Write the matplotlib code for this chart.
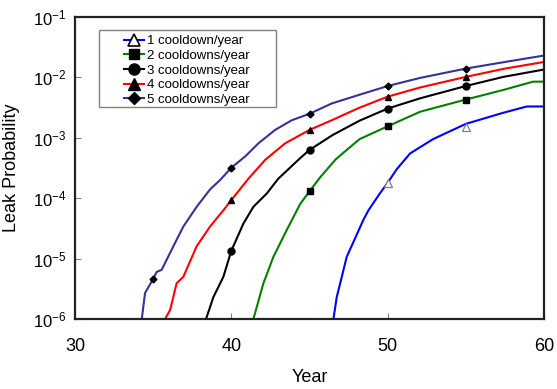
import numpy as np
import matplotlib
matplotlib.use("Agg")
import matplotlib.pyplot as plt
from matplotlib.patches import Rectangle

plt.rcParams['font.family'] = ['Liberation Sans', 'DejaVu Sans']
plt.rcParams['mathtext.fontset'] = 'custom'
plt.rcParams['mathtext.rm'] = 'Liberation Sans'
plt.rcParams['mathtext.it'] = 'Liberation Sans'

# Leak probability curves (year, probability)
year_1 = [46.53, 46.74, 47.38, 48.45, 48.77, 49.5, 50.0, 50.57, 51.43, 52.9, 55.0, 57.4, 58.9, 60.0]
prob_1 = [1.0e-6, 2.3e-6, 1.07e-5, 4.4e-5, 6.3e-5, 1.2e-4, 1.8e-4, 3.0e-4, 5.5e-4, 9.5e-4, 1.7e-3, 2.6e-3, 3.3e-3, 3.3e-3]
# open triangles of series 1 sit slightly off the line
mark_year_1 = [50, 55]
mark_prob_1 = [1.8e-4, 1.5e-3]

year_2 = [41.41, 42.05, 42.69, 43.55, 44.4, 45.0, 45.67, 46.64, 47.0, 48.2, 50.0, 52.07, 55.0, 57.4, 59.3, 60.0]
prob_2 = [1.0e-6, 3.9e-6, 1.07e-5, 3.0e-5, 8.0e-5, 1.3e-4, 2.2e-4, 4.3e-4, 5.2e-4, 9.5e-4, 1.55e-3, 2.7e-3, 4.3e-3, 6.2e-3, 8.5e-3, 8.5e-3]

year_3 = [38.38, 38.85, 39.49, 40.0, 40.77, 41.41, 42.27, 43.0, 44.4, 45.0, 46.5, 48.2, 50.0, 52.07, 55.0, 57.4, 60.0]
prob_3 = [1.0e-6, 2.3e-6, 5.0e-6, 1.35e-5, 3.8e-5, 7.2e-5, 1.2e-4, 2.1e-4, 4.6e-4, 6.3e-4, 1.12e-3, 1.92e-3, 3.05e-3, 4.5e-3, 7.2e-3, 1.02e-2, 1.35e-2]

year_4 = [35.76, 36.08, 36.5, 36.93, 37.78, 38.64, 39.49, 40.0, 41.09, 42.16, 43.44, 45.0, 46.42, 48.13, 50.0, 52.07, 55.0, 57.5, 60.0]
prob_4 = [1.0e-6, 1.4e-6, 3.9e-6, 5.0e-6, 1.6e-5, 3.4e-5, 6.3e-5, 9.3e-5, 2.1e-4, 4.3e-4, 8.1e-4, 1.35e-3, 1.95e-3, 3.1e-3, 4.8e-3, 6.8e-3, 1.02e-2, 1.4e-2, 1.8e-2]

year_5 = [34.27, 34.48, 35.0, 35.22, 35.54, 36.29, 36.93, 37.78, 38.64, 39.28, 40.0, 40.88, 41.73, 42.8, 43.86, 45.0, 46.42, 48.13, 50.0, 52.07, 55.0, 57.5, 60.0]
prob_5 = [1.0e-6, 2.7e-6, 4.6e-6, 6.0e-6, 6.5e-6, 1.6e-5, 3.4e-5, 7.2e-5, 1.4e-4, 2.0e-4, 3.2e-4, 4.9e-4, 8.1e-4, 1.35e-3, 1.95e-3, 2.5e-3, 3.7e-3, 5.1e-3, 7.2e-3, 9.8e-3, 1.4e-2, 1.8e-2, 2.3e-2]

mark_years = [35, 40, 45, 50, 55]

labels = ['1 cooldown/year', '2 cooldowns/year', '3 cooldowns/year',
          '4 cooldowns/year', '5 cooldowns/year']


def marks(years):
    return [years.index(y) for y in mark_years if y in years]


fig = plt.figure(figsize=(5.57, 3.89), dpi=100)
ax = fig.add_axes([0.1347, 0.18, 0.842, 0.7763])

ax.plot(year_1, prob_1, color='#0000ff', lw=1.5)
ax.plot(mark_year_1, mark_prob_1, ls='none', marker='^', ms=6,
        mfc='white', mec='#808080', mew=0.9)
ax.plot(year_2, prob_2, color='#008000', lw=1.5, marker='s', ms=4.5,
        mfc='black', mec='black', markevery=marks(year_2))
ax.plot(year_3, prob_3, color='black', lw=1.5, marker='o', ms=5,
        mfc='black', mec='black', markevery=marks(year_3))
ax.plot(year_4, prob_4, color='#ff0000', lw=1.5, marker='^', ms=5,
        mfc='black', mec='black', markevery=marks(year_4))
ax.plot(year_5, prob_5, color='#333399', lw=1.5, marker='D', ms=3.5,
        mfc='black', mec='black', markevery=marks(year_5))

# legend proxies (bigger markers, as in the original)
proxies = [
    ax.plot([], [], color='#0000ff', lw=1.5, marker='^', ms=9, mfc='white', mec='black', mew=1.2)[0],
    ax.plot([], [], color='#008000', lw=1.5, marker='s', ms=7, mfc='black', mec='black')[0],
    ax.plot([], [], color='black', lw=1.5, marker='o', ms=8, mfc='black', mec='black')[0],
    ax.plot([], [], color='#ff0000', lw=1.5, marker='^', ms=8, mfc='black', mec='black')[0],
    ax.plot([], [], color='#333399', lw=1.5, marker='D', ms=6, mfc='black', mec='black')[0],
]
ax.legend(proxies, labels, loc='upper left', bbox_to_anchor=(0.105, 0.94),
          frameon=False, fontsize=9.5, borderpad=0, borderaxespad=0,
          handlelength=1.5, handletextpad=0.25, labelspacing=0.18)
ax.add_patch(Rectangle((0.0512, 0.702), 0.3774, 0.255, transform=ax.transAxes,
                       fill=False, edgecolor='#808080', lw=1.0, zorder=5))

ax.set_yscale('log')
ax.set_xlim(30, 60)
ax.set_ylim(1e-6, 1e-1)
ax.set_xticks([30, 40, 50, 60])
ax.set_yticks([1e-6, 1e-5, 1e-4, 1e-3, 1e-2, 1e-1])
ax.minorticks_off()
ax.tick_params(axis='x', direction='in', length=4, width=0.8, color='#808080',
               labelsize=13, pad=14)
ax.tick_params(axis='y', direction='in', length=4, width=0.8, color='#808080',
               labelsize=12, pad=6)

for s in ax.spines.values():
    s.set_linewidth(1.6)
    s.set_color('#222222')

ax.set_xlabel('Year', fontsize=13)
ax.set_ylabel('Leak Probability', fontsize=13)
ax.xaxis.set_label_coords(0.5, -0.165)
ax.yaxis.set_label_coords(-0.118, 0.5)

fig.savefig('out.png', dpi=100)
